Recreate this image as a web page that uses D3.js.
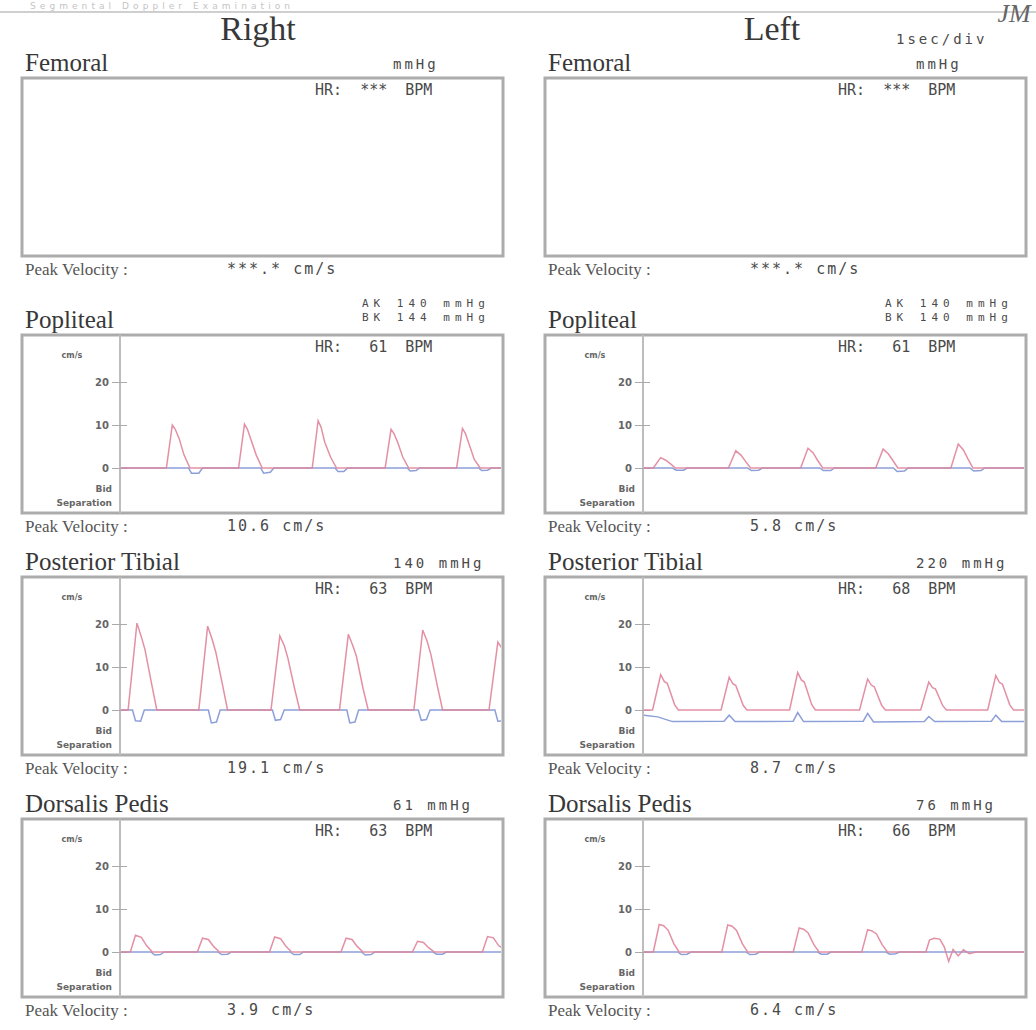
<!DOCTYPE html>
<html>
<head>
<meta charset="utf-8">
<script src="https://cdn.jsdelivr.net/npm/d3@7"></script>
<style>
  body { margin: 0; background: #fff; }
  .title { font-family: 'Liberation Serif', serif; fill: #383838; }
  .mono { font-family: 'DejaVu Sans Mono', monospace; fill: #4a4a4a; white-space: pre; }
  .small { font-family: 'DejaVu Sans', sans-serif; font-weight: bold; fill: #666; }
  .axis text { font-family: 'DejaVu Sans', sans-serif; font-weight: bold; font-size: 10px; fill: #666; }
  .axis line { stroke: #aaa; }
</style>
</head>
<body>
<script>
// report text
var sideNames = ['Right', 'Left'];
var sites = ['Femoral', 'Popliteal', 'Posterior Tibial', 'Dorsalis Pedis'];
var hrRight = ['***', '61', '63', '63'];
var hrLeft = ['***', '61', '68', '66'];
var pressRight = [['mmHg'], ['AK 140 mmHg', 'BK 144 mmHg'], ['140 mmHg'], ['61 mmHg']];
var pressLeft = [['mmHg'], ['AK 140 mmHg', 'BK 140 mmHg'], ['220 mmHg'], ['76 mmHg']];
var peakRight = ['***.*', '10.6', '19.1', '3.9'];
var peakLeft = ['***.*', '5.8', '8.7', '6.4'];
var yTicks = [0, 10, 20];
var timeSpan = [0, 5.2];   // seconds across the trace
var velSpan = [-10, 30];   // cm/s

// waveforms: time (s) and velocity (cm/s), forward (red) and reverse (blue)
var rPopFwdT = [0, 0.63, 0.71, 0.75, 0.80, 0.87, 0.95, 1.61, 1.69, 1.73, 1.78, 1.85, 1.93, 2.61, 2.69, 2.73, 2.78, 2.86, 2.94, 3.60, 3.68, 3.72, 3.77, 3.84, 3.92, 4.57, 4.65, 4.69, 4.74, 4.81, 4.89, 5.2];
var rPopFwdV = [0, 0, 10, 9, 7, 3, 0, 0, 10.2, 9, 6.5, 3, 0, 0, 11, 9.5, 6, 2.5, 0, 0, 9, 8, 6, 2.5, 0, 0, 9.2, 8, 5.5, 2, 0, 0];
var rPopRevT = [0, 0.93, 0.97, 1.07, 1.12, 1.91, 1.95, 2.04, 2.09, 2.92, 2.96, 3.04, 3.09, 3.90, 3.94, 4.02, 4.07, 4.87, 4.91, 4.99, 5.04, 5.2];
var rPopRevV = [0, 0, -1.2, -1.2, 0, 0, -1.2, -1, 0, 0, -0.8, -0.8, 0, 0, -0.7, -0.6, 0, 0, -0.6, -0.5, 0, 0];

var rPtFwdT = [0, 0.11, 0.23, 0.29, 0.34, 0.43, 0.50, 1.07, 1.19, 1.25, 1.30, 1.39, 1.46, 2.05, 2.17, 2.23, 2.28, 2.37, 2.44, 2.98, 3.10, 3.16, 3.21, 3.30, 3.37, 3.99, 4.11, 4.17, 4.22, 4.31, 4.38, 5.01, 5.13, 5.2];
var rPtFwdV = [0, 0, 20.2, 17, 14, 6, 0, 0, 19.5, 16.5, 13.5, 6, 0, 0, 17.2, 15, 12, 5, 0, 0, 17.6, 15, 12.5, 5, 0, 0, 18.6, 16, 13, 5.5, 0, 0, 15.8, 14];
var rPtRevT = [0, 0.17, 0.21, 0.28, 0.33, 1.20, 1.24, 1.31, 1.36, 2.07, 2.11, 2.18, 2.23, 3.08, 3.12, 3.19, 3.24, 4.05, 4.09, 4.16, 4.21, 5.09, 5.13, 5.2];
var rPtRevV = [0, 0, -2.5, -2.6, 0, 0, -3, -2.8, 0, 0, -2.4, -2.2, 0, 0, -3, -2.8, 0, 0, -2.4, -2.2, 0, 0, -2.6, -2.5];

var rDpFwdT = [0, 0.14, 0.21, 0.29, 0.36, 0.44, 1.05, 1.12, 1.20, 1.27, 1.35, 2.03, 2.10, 2.18, 2.25, 2.33, 3.00, 3.07, 3.15, 3.22, 3.30, 3.97, 4.04, 4.12, 4.19, 4.27, 4.92, 4.99, 5.07, 5.14, 5.2];
var rDpFwdV = [0, 0, 3.9, 3.4, 1.5, 0, 0, 3.2, 2.9, 1.3, 0, 0, 3.5, 3.1, 1.4, 0, 0, 3.2, 2.9, 1.3, 0, 0, 2.5, 2.2, 1, 0, 0, 3.6, 3.3, 1.5, 0.8];
var rDpRevT = [0, 0.42, 0.47, 0.55, 0.60, 1.33, 1.38, 1.46, 1.51, 2.31, 2.36, 2.44, 2.49, 3.28, 3.33, 3.41, 3.46, 4.25, 4.30, 4.38, 4.43, 5.2];
var rDpRevV = [0, 0, -0.7, -0.6, 0, 0, -0.6, -0.5, 0, 0, -0.6, -0.6, 0, 0, -0.7, -0.6, 0, 0, -0.5, -0.5, 0, 0];

var lPopFwdT = [0, 0.14, 0.24, 0.31, 0.37, 0.44, 1.16, 1.26, 1.33, 1.39, 1.46, 2.14, 2.24, 2.31, 2.37, 2.44, 3.16, 3.26, 3.33, 3.39, 3.46, 4.18, 4.28, 4.35, 4.41, 4.48, 5.2];
var lPopFwdV = [0, 0, 2.4, 1.8, 1, 0, 0, 4.0, 3, 1.6, 0, 0, 4.6, 3.5, 1.8, 0, 0, 4.4, 3.3, 1.8, 0, 0, 5.6, 4.2, 2.2, 0, 0];
var lPopRevT = [0, 0.40, 0.45, 0.55, 0.60, 1.42, 1.47, 1.57, 1.62, 2.40, 2.45, 2.55, 2.60, 3.40, 3.45, 3.55, 3.60, 4.44, 4.49, 4.59, 4.64, 5.2];
var lPopRevV = [0, 0, -0.5, -0.5, 0, 0, -0.6, -0.5, 0, 0, -0.6, -0.6, 0, 0, -0.8, -0.7, 0, 0, -0.7, -0.6, 0, 0];

var lPtFwdT = [0, 0.13, 0.24, 0.29, 0.33, 0.43, 0.48, 1.06, 1.17, 1.22, 1.26, 1.36, 1.41, 1.99, 2.10, 2.15, 2.19, 2.29, 2.34, 2.94, 3.05, 3.10, 3.14, 3.24, 3.29, 3.77, 3.88, 3.93, 3.97, 4.07, 4.12, 4.68, 4.79, 4.84, 4.88, 4.98, 5.03, 5.2];
var lPtFwdV = [0, 0, 8.2, 6.6, 6.2, 1.2, 0, 0, 7.6, 6.1, 5.7, 1.1, 0, 0, 8.7, 7, 6.5, 1.3, 0, 0, 7.2, 5.8, 5.4, 1.1, 0, 0, 6.5, 5.2, 4.9, 1, 0, 0, 8.0, 6.4, 6, 1.2, 0, 0];
var lPtRevT = [0, 0.20, 0.40, 1.10, 1.17, 1.25, 2.04, 2.10, 2.18, 2.99, 3.05, 3.13, 3.82, 3.88, 3.96, 4.73, 4.79, 4.87, 5.2];
var lPtRevV = [-1.2, -1.6, -2.7, -2.6, -1.2, -2.7, -2.6, -0.6, -2.7, -2.6, -0.8, -2.8, -2.7, -1.5, -2.7, -2.6, -1.2, -2.7, -2.7];

var lDpFwdT = [0, 0.14, 0.22, 0.28, 0.34, 0.42, 0.49, 1.07, 1.15, 1.21, 1.27, 1.35, 1.42, 2.04, 2.12, 2.18, 2.24, 2.32, 2.39, 2.97, 3.05, 3.11, 3.17, 3.25, 3.32, 3.84, 3.89, 3.95, 4.03, 4.09, 4.15, 4.21, 4.28, 4.35, 4.43, 4.52, 5.2];
var lDpFwdV = [0, 0, 6.4, 6.1, 5.1, 1.9, 0, 0, 6.3, 6.0, 5.0, 1.9, 0, 0, 5.6, 5.3, 4.5, 1.7, 0, 0, 5.2, 4.9, 4.2, 1.6, 0, 0, 2.8, 3.2, 3.0, 1.2, -2.2, 0.6, -0.9, 0.5, -0.4, 0, 0];
var lDpRevT = [0, 0.47, 0.52, 0.60, 0.65, 1.40, 1.45, 1.53, 1.58, 2.37, 2.42, 2.50, 2.55, 3.30, 3.35, 3.43, 3.48, 5.2];
var lDpRevV = [0, 0, -0.6, -0.5, 0, 0, -0.6, -0.5, 0, 0, -0.5, -0.5, 0, 0, -0.5, -0.4, 0, 0];

function zip(t, v) { return t.map(function (d, i) { return [d, v[i]]; }); }

var waves = [
    [null,
     {fwd: zip(rPopFwdT, rPopFwdV), rev: zip(rPopRevT, rPopRevV)},
     {fwd: zip(rPtFwdT, rPtFwdV), rev: zip(rPtRevT, rPtRevV)},
     {fwd: zip(rDpFwdT, rDpFwdV), rev: zip(rDpRevT, rDpRevV)}],
    [null,
     {fwd: zip(lPopFwdT, lPopFwdV), rev: zip(lPopRevT, lPopRevV)},
     {fwd: zip(lPtFwdT, lPtFwdV), rev: zip(lPtRevT, lPtRevV)},
     {fwd: zip(lDpFwdT, lDpFwdV), rev: zip(lDpRevT, lDpRevV)}]
];
var hrs = [hrRight, hrLeft], press = [pressRight, pressLeft], peaks = [peakRight, peakLeft];

// layout
var boxTops = [78, 335, 577, 819], boxH = 178;
var boxX = [22, 545], boxW = 481, axisW = 98;

var svg = d3.select('body').append('svg').attr('width', 1036).attr('height', 1030);

// page header
svg.append('line').attr('x1', 0).attr('x2', 1036).attr('y1', 12).attr('y2', 12)
    .attr('stroke', '#cfcfcf').attr('stroke-width', 2);
svg.append('text').attr('x', 30).attr('y', 9).attr('textLength', 260)
    .style('font-family', 'DejaVu Sans').style('font-size', '9px').style('fill', '#c4c4c4')
    .text('Segmental Doppler Examination');
svg.append('text').attr('x', 1014).attr('y', 22).attr('text-anchor', 'middle')
    .style('font-family', 'Liberation Serif').style('font-style', 'italic')
    .style('font-size', '26px').style('fill', '#666').text('JM');
svg.append('text').attr('class', 'mono').attr('x', 896).attr('y', 44)
    .style('font-size', '14px').style('letter-spacing', '3px').text('1sec/div');

sideNames.forEach(function (side, s) {
    var bx = boxX[s];
    svg.append('text').attr('class', 'title')
        .attr('x', s === 0 ? 258 : 772).attr('y', 40).attr('text-anchor', 'middle')
        .style('font-size', '34px').text(side);

    sites.forEach(function (site, i) {
        var top = boxTops[i];
        var g = svg.append('g');

        g.append('text').attr('class', 'title').attr('x', bx + 3).attr('y', top - 7)
            .style('font-size', '25px').text(site);

        // pressure lines above the box
        var pl = press[s][i];
        pl.forEach(function (p, k) {
            var two = pl.length === 2;
            g.append('text').attr('class', 'mono')
                .attr('x', two ? bx + 340 : bx + 371)
                .attr('y', two ? top - 28 + k * 14 : top - 9)
                .style('font-size', two ? '11px' : '14px')
                .style('letter-spacing', two ? '5px' : '3px').text(p);
        });

        g.append('rect').attr('x', bx).attr('y', top).attr('width', boxW).attr('height', boxH)
            .attr('fill', 'none').attr('stroke', '#acacac').attr('stroke-width', 3);

        g.append('text').attr('class', 'mono').attr('x', bx + 293).attr('y', top + 17)
            .style('font-size', '15px')
            .text('HR:  ' + hrs[s][i].padStart(3, ' ') + '  BPM');

        // peak velocity row
        g.append('text').attr('class', 'title').attr('x', bx + 3).attr('y', top + boxH + 19)
            .style('font-size', '17px').style('fill', '#555').text('Peak Velocity :');
        g.append('text').attr('class', 'mono').attr('x', bx + 205).attr('y', top + boxH + 18)
            .style('font-size', '15px').style('letter-spacing', '2px')
            .text(peaks[s][i] + ' cm/s');

        var w = waves[s][i];
        if (!w) return;

        var divX = bx + axisW;
        var x = d3.scaleLinear().domain(timeSpan).range([divX, bx + boxW]);
        var y = d3.scaleLinear().domain(velSpan).range([top + 176, top + 4]);

        g.append('line').attr('x1', divX).attr('x2', divX).attr('y1', top).attr('y2', top + boxH)
            .attr('stroke', '#bdbdbd').attr('stroke-width', 2);

        var ax = g.append('g').attr('class', 'axis').attr('transform', 'translate(' + (divX + 7) + ',0)')
            .call(d3.axisLeft(y).tickValues(yTicks).tickSize(15).tickPadding(3));
        ax.select('.domain').remove();

        g.append('text').attr('class', 'small').attr('x', bx + 50).attr('y', top + 23)
            .attr('text-anchor', 'middle').style('font-size', '8px').text('cm/s');
        g.append('text').attr('class', 'small').attr('x', bx + 90).attr('y', top + 157)
            .attr('text-anchor', 'end').style('font-size', '9px').text('Bid');
        g.append('text').attr('class', 'small').attr('x', bx + 90).attr('y', top + 171)
            .attr('text-anchor', 'end').style('font-size', '9px').text('Separation');

        var clipId = 'clip' + s + i;
        g.append('clipPath').attr('id', clipId).append('rect')
            .attr('x', divX + 1).attr('y', top + 2).attr('width', bx + boxW - divX - 3).attr('height', boxH - 4);

        var line = d3.line().x(function (d) { return x(d[0]); }).y(function (d) { return y(d[1]); });
        var pg = g.append('g').attr('clip-path', 'url(#' + clipId + ')');
        pg.append('path').datum(w.rev).attr('d', line)
            .attr('fill', 'none').attr('stroke', '#8d9fd8').attr('stroke-width', 1.5);
        pg.append('path').datum(w.fwd).attr('d', line)
            .attr('fill', 'none').attr('stroke', '#e0849a').attr('stroke-width', 1.5)
            .style('opacity', 0.9);
    });
});
</script>
</body>
</html>
